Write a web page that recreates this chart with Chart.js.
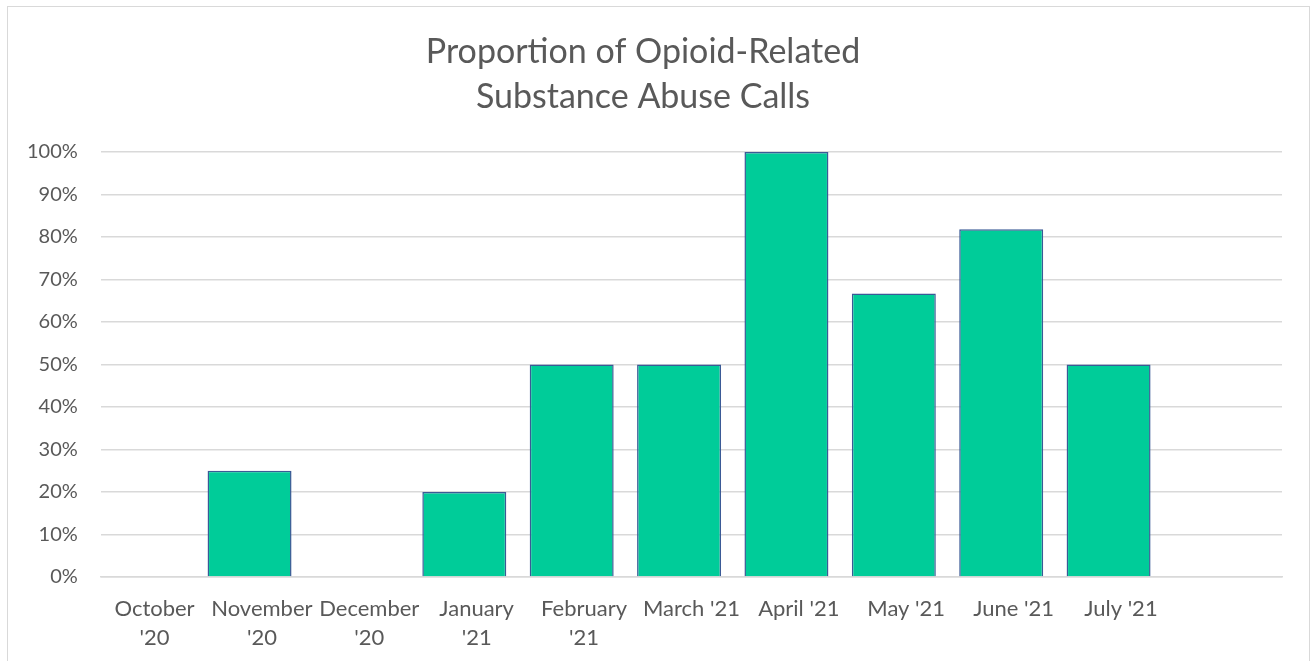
<!DOCTYPE html>
<html>
<head>
<meta charset="utf-8">
<script src="https://cdn.jsdelivr.net/npm/chart.js@4.4.0/dist/chart.umd.min.js"></script>
<style>
  html, body { margin: 0; padding: 0; background: #fff; overflow: hidden; }
  #frame {
    position: absolute; left: 7px; top: 6px; width: 1303px; height: 670px;
    border: 1px solid #d9d9d9; box-sizing: border-box;
  }
  #wrap { position: absolute; left: 0; top: 0; width: 1311px; height: 661px; }
</style>
</head>
<body>
<div id="frame"></div>
<div id="wrap"><canvas id="opioidChart"></canvas></div>
<script>
// Data
const months = [
  ['October', "'20"], ['November', "'20"], ['December', "'20"],
  ['January', "'21"], ['February', "'21"],
  "March '21", "April '21", "May '21", "June '21", "July '21", ''
];
const opioidShare = [0, 0.25, 0, 0.20, 0.50, 0.50, 1.00, 0.667, 0.818, 0.50, null];
// empty second series (it is what pushes the bars left of the labels)
const spacerSeries = [null, null, null, null, null, null, null, null, null, null, null];
const yTicks = [0, 0.1, 0.2, 0.3, 0.4, 0.5, 0.6, 0.7, 0.8, 0.9, 1.0];

const textColor = '#595959';
const fontFamily = 'Lato, "Open Sans", sans-serif';

function createOpioidChart() {
    const ctx = document.getElementById('opioidChart').getContext('2d');
    new Chart(ctx, {
        type: 'bar',
        data: {
            labels: months,
            datasets: [{
                label: 'Opioid-related share',
                data: opioidShare,
                backgroundColor: '#00cc99',
                borderColor: '#3a5a96',
                borderWidth: 1.5,
                barPercentage: 3.4,
                categoryPercentage: 0.46
            }, {
                label: 'spacer',
                data: spacerSeries,
                backgroundColor: 'rgba(0,0,0,0)',
                barPercentage: 3.4,
                categoryPercentage: 0.46
            }]
        },
        options: {
            responsive: true,
            maintainAspectRatio: false,
            animation: false,
            layout: {
                padding: { left: 4, right: 29, top: 0, bottom: 0 }
            },
            plugins: {
                legend: { display: false },
                tooltip: { enabled: false },
                title: {
                    display: true,
                    text: ['Proportion of Opioid-Related', 'Substance Abuse Calls'],
                    color: textColor,
                    font: { family: fontFamily, size: 34, weight: 'normal', lineHeight: 1.33 },
                    padding: { top: 29.5, bottom: 32 }
                }
            },
            scales: {
                x: {
                    grid: { display: false },
                    border: { color: '#d9d9d9', width: 1.5 },
                    ticks: {
                        color: textColor,
                        font: { family: fontFamily, size: 22, lineHeight: 1.32 },
                        maxRotation: 0,
                        autoSkip: false,
                        padding: 9
                    }
                },
                y: {
                    min: 0,
                    max: 1,
                    afterBuildTicks: axis => { axis.ticks = yTicks.map(v => ({ value: v })); },
                    grid: { color: '#d9d9d9', lineWidth: 1.5, drawTicks: false },
                    border: { display: false },
                    ticks: {
                        color: textColor,
                        font: { family: fontFamily, size: 20 },
                        padding: 23,
                        callback: v => Math.round(v * 100) + '%'
                    }
                }
            }
        }
    });
}

document.addEventListener('DOMContentLoaded', () => {
    createOpioidChart();
});
</script>
</body>
</html>
